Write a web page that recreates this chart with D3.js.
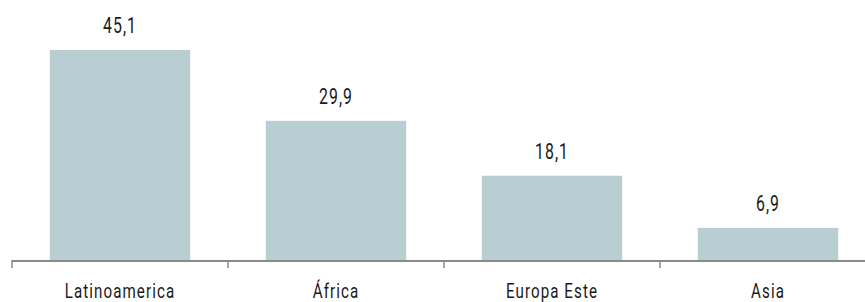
<!DOCTYPE html>
<html>
<head>
<meta charset="utf-8">
<script src="https://cdn.jsdelivr.net/npm/d3@7"></script>
<style>
  body { margin: 0; background: #fff; }
  svg text { font-family: Roboto, "Liberation Sans", sans-serif; fill: #1a1a1a; }
</style>
</head>
<body>
<div id="chart"></div>
<script>
const categories = ["Latinoamerica", "África", "Europa Este", "Asia"];
const values = [45.1, 29.9, 18.1, 6.9];
const valueLabels = ["45,1", "29,9", "18,1", "6,9"];

const width = 865, height = 302;
const baseY = 260;
const squeeze = 0.72; // the source font is a narrow one

const svg = d3.select("#chart").append("svg")
  .attr("width", width).attr("height", height);

const x = d3.scaleBand().domain(categories).range([12, 876]).paddingInner(0).paddingOuter(0);
const y = d3.scaleLinear().domain([0, 45.1]).range([baseY, 50]);

const barW = x.bandwidth() * 0.65;

svg.selectAll("rect.bar").data(values).enter().append("rect")
  .attr("class", "bar")
  .attr("x", (d, i) => x(categories[i]) + (x.bandwidth() - barW) / 2)
  .attr("y", d => y(d))
  .attr("width", barW)
  .attr("height", d => baseY - y(d))
  .attr("fill", "#b8ced2");

svg.selectAll("text.val").data(values).enter().append("text")
  .attr("class", "val")
  .attr("transform", (d, i) => `translate(${x(categories[i]) + x.bandwidth() / 2},${y(d) - 17}) scale(${squeeze},1)`)
  .attr("text-anchor", "middle")
  .attr("font-size", 22)
  .attr("letter-spacing", 1.5)
  .text((d, i) => valueLabels[i]);

// axis line and tick marks
const axis = svg.append("g");
axis.append("line")
  .attr("x1", 12).attr("x2", width).attr("y1", baseY + 1).attr("y2", baseY + 1)
  .attr("stroke", "#8a8a8a").attr("stroke-width", 2);
axis.selectAll("line.tick").data(categories).enter().append("line")
  .attr("class", "tick")
  .attr("x1", d => x(d)).attr("x2", d => x(d))
  .attr("y1", baseY).attr("y2", baseY + 8)
  .attr("stroke", "#8a8a8a").attr("stroke-width", 1.5);

svg.selectAll("text.cat").data(categories).enter().append("text")
  .attr("class", "cat")
  .attr("transform", d => `translate(${x(d) + x.bandwidth() / 2},298) scale(${squeeze},1)`)
  .attr("text-anchor", "middle")
  .attr("font-size", 21)
  .attr("letter-spacing", 1.5)
  .text(d => d);
</script>
</body>
</html>
